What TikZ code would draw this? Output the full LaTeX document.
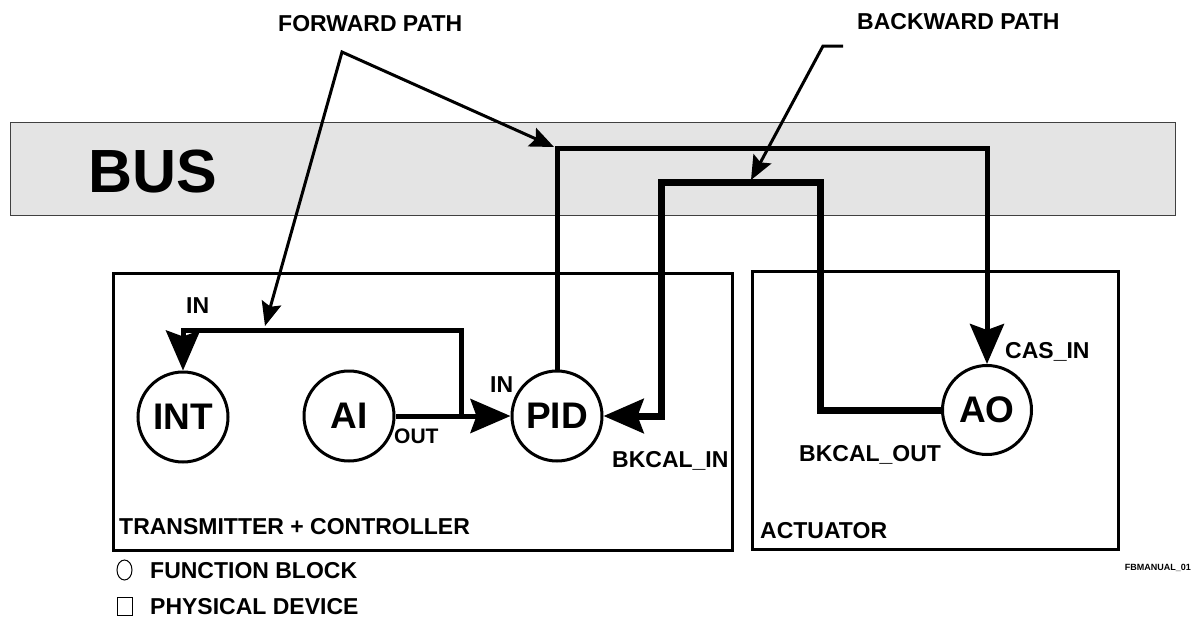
\documentclass[tikz,border=0pt]{standalone}
\usepackage{fontspec}
\setmainfont{Liberation Sans}
\usetikzlibrary{arrows.meta}
\definecolor{busgray}{RGB}{228,228,228}
\begin{document}
\begin{tikzpicture}[x=1pt,y=-1pt,
 lbl/.style={anchor=base west,inner sep=0pt,font=\fontsize{23}{27}\selectfont\bfseries},
 fb/.style={circle,draw,line width=3pt,minimum size=90pt,inner sep=0pt,font=\fontsize{37}{40}\selectfont\bfseries},
 dev/.style={draw,line width=3pt},
 sig/.style={line width=5pt,-{Stealth[length=40pt,width=34pt,inset=6pt]}},
 ptr/.style={line width=3pt,-{Stealth[length=24pt,width=20pt,inset=4pt]}},
 ptrboth/.style={line width=3pt,{Stealth[length=24pt,width=20pt,inset=4pt]}-{Stealth[length=24pt,width=20pt,inset=4pt]}}]
\useasboundingbox (0,0) rectangle (1192,633);
% bus
\draw[fill=busgray,draw=black!75,line width=1pt] (10,122) rectangle (1175,215);
\node[anchor=base west,inner sep=0pt,font=\fontsize{61}{61}\selectfont\bfseries] (bus) at (88,192) {BUS};
% devices
\draw[dev] (113,273) rectangle (732,550);
\draw[dev] (752,271) rectangle (1118,549);
% function blocks
\node[fb] (INT) at (183,417) {INT};
\node[fb] (AI) at (349,416) {AI};
\node[fb] (PID) at (557,416) {PID};
\node[fb,minimum size=89pt] (AO) at (987,410) {AO};
% signals
\coordinate (j) at (461,416);
\draw[sig] (AI.east) -- (PID.west);
\draw[sig] (j) -- (461,330) -- (183,330) -- (INT.north);
\draw[sig] (PID.north) -- (557,148) -- (987,148) -- (AO.north);
\draw[sig,line width=7pt] (AO.west) -- (820,410) -- (820,182) -- (661,182) -- (661,416) -- (PID.east);
% pointers
\coordinate (fa) at (342,52);
\draw[ptrboth] (265,326) -- (fa) -- (554,147);
\coordinate (ba) at (843,46);
\draw[ptr] (ba) -- (823,46) -- (751,180);
% labels
\node[lbl] (fwd) at (278,31) {FORWARD PATH};
\node[lbl] (bwd) at (857,29) {BACKWARD PATH};
\node[lbl] (inint) at (186,313) {IN};
\node[lbl] (inpid) at (490,392) {IN};
\node[lbl,font=\fontsize{21}{25}\selectfont\bfseries] (out) at (394,443) {OUT};
\node[lbl] (bkin) at (612,467) {BKCAL\_IN};
\node[lbl] (casin) at (1005,358) {CAS\_IN};
\node[lbl] (bkout) at (799,461) {BKCAL\_OUT};
\node[lbl] (tc) at (119,534) {TRANSMITTER + CONTROLLER};
\node[lbl] (act) at (760,538) {ACTUATOR};
\node[anchor=base east,inner sep=0pt,font=\fontsize{9}{10}\selectfont\bfseries] (fbm) at (1191,570) {FBMANUAL\_01};
% legend
\draw[line width=1pt] (124.5,570) ellipse [x radius=7.5,y radius=10];
\draw[line width=1pt] (117,597) rectangle (132,615);
\node[lbl] (lfb) at (150,578) {FUNCTION BLOCK};
\node[lbl] (lpd) at (150,614) {PHYSICAL DEVICE};
\end{tikzpicture}
\end{document}
